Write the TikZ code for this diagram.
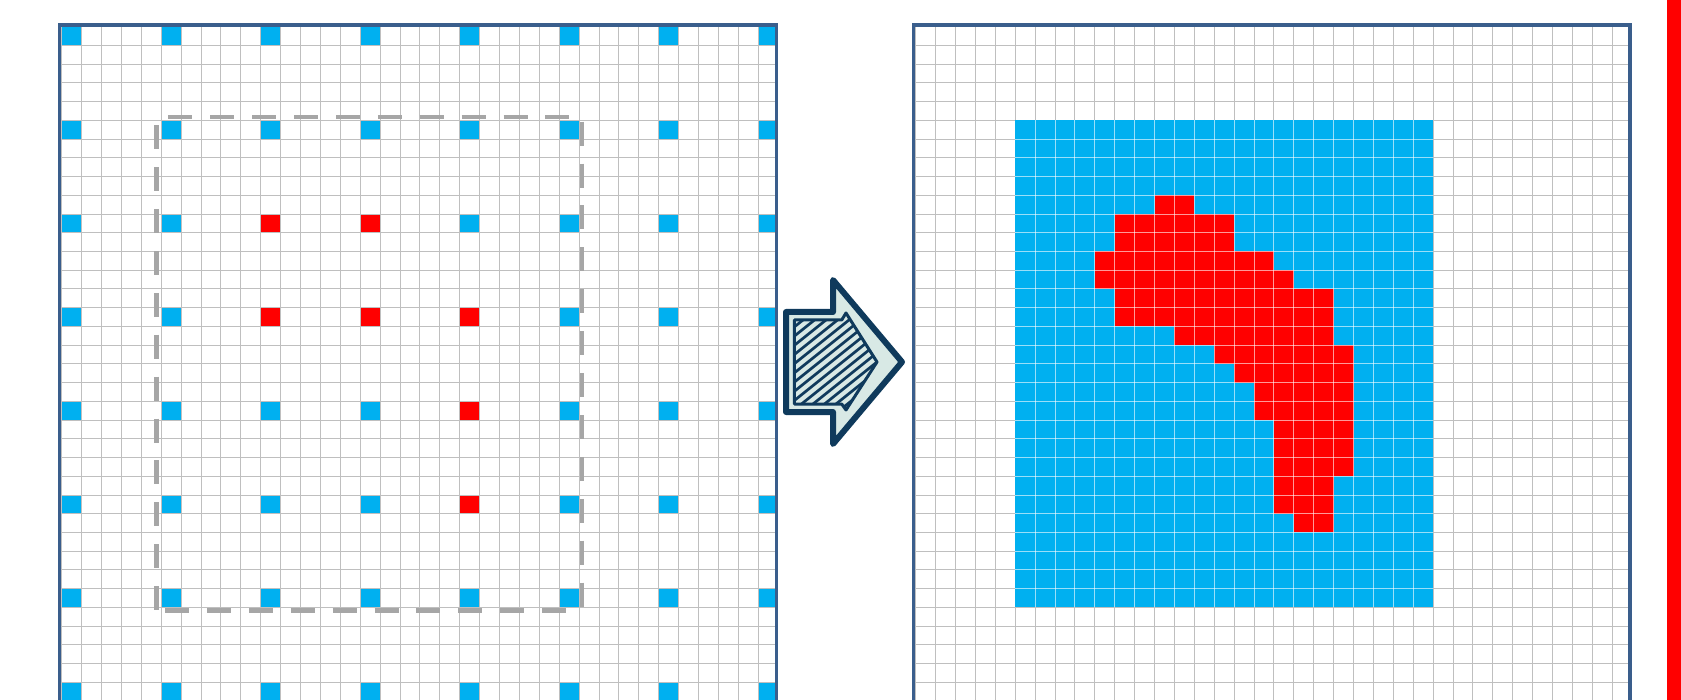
\documentclass[tikz,border=0pt]{standalone}
\definecolor{cellblue}{HTML}{00B0F0}
\definecolor{cellred}{HTML}{FF0000}
\definecolor{gridgray}{HTML}{BFBFBF}
\definecolor{dashgray}{HTML}{A6A6A6}
\definecolor{panelblue}{HTML}{3A5E8C}
\definecolor{arrownavy}{HTML}{0F3A5C}
\definecolor{arrowfill}{HTML}{D8E9E5}
\begin{document}
\begin{tikzpicture}[x=1pt,y=-1pt,
  gl/.style={gridgray, line width=0.9pt},
  gllight/.style={white, opacity=0.6, line width=0.9pt},
  panel/.style={panelblue, line width=3.3pt},
  cellgrid/.style={x=19.9pt, y=-18.73pt},
  dashedge/.style={dashgray, line width=4.5pt, dash pattern=on 24pt off 17.9pt},
  arrowouter/.style={arrownavy, fill=arrowfill, line width=6pt, line join=round},
  arrowinner/.style={arrownavy, line width=3pt, line join=round},
  hatchline/.style={arrownavy, line width=2.7pt, line cap=round}]
\useasboundingbox (0,0) rectangle (1681,700);
\clip (0,0) rectangle (1681,700);

% ---------- left panel ----------
\begin{scope}
  \clip (59.3,25) rectangle (776.7,720);
  \begin{scope}[xshift=61.7pt, yshift=-26.7pt, cellgrid]
    \foreach \r in {0,5,...,35}
      \foreach \c in {0,5,...,35}
        \fill[cellblue] (\c,\r) rectangle ++(1,1);
    \foreach \c/\r in {10/10,15/10,10/15,15/15,20/15,20/20,20/25}
      \fill[cellred] (\c,\r) rectangle ++(1,1);
    \foreach \i in {0,...,36} \draw[gl] (\i,-1) -- (\i,37);
    \foreach \j in {0,...,36} \draw[gl] (-1,\j) -- (37,\j);
  \end{scope}
\end{scope}
\draw[panel] (59.3,25) rectangle (776.7,720);

% dashed window
\coordinate (wtl) at (156.7,117.2);
\coordinate (wtr) at (582,117.2);
\coordinate (wbl) at (156.7,610.7);
\coordinate (wbr) at (582,610.7);
\draw[dashedge, dash phase=30.3pt] (wtl) -- (wtr);
\draw[dashedge, dash phase=33.9pt] (wtl) -- (wbl);
\draw[dashedge, dash phase=33.6pt] (wbl) -- (wbr);
\draw[dashedge, dash phase=37.4pt] (wtr) -- (wbr);

% ---------- arrow ----------
\draw[arrowouter] (786,312) -- (833,312) -- (833,280) -- (902,362) -- (833,444) -- (833,412) -- (786,412) -- cycle;
\begin{scope}
  \clip (794.3,320) -- (841.7,320) -- (846,313) -- (877,362) -- (846,410) -- (841.7,404) -- (794.3,404) -- cycle;
  \foreach \t in {-110,-98.5,...,90}
    \draw[hatchline] (794+\t,406) -- ++(110,-88);
\end{scope}
\draw[arrowinner] (794.3,320) -- (841.7,320) -- (846,313) -- (877,362) -- (846,410) -- (841.7,404) -- (794.3,404) -- cycle;

% ---------- right panel ----------
\begin{scope}
  \clip (913.3,25) rectangle (1630,720);
  \begin{scope}[xshift=915.7pt, yshift=-26.7pt, cellgrid]
    \foreach \i in {0,...,36} \draw[gl] (\i,-1) -- (\i,37);
    \foreach \j in {0,...,36} \draw[gl] (-1,\j) -- (37,\j);
    \fill[cellblue] (5,5) rectangle (26,31);
    \foreach \r/\a/\b in {9/12/13,10/10/15,11/10/15,12/9/17,13/9/18,14/10/20,15/10/20,16/13/20,17/15/21,18/16/21,19/17/21,20/17/21,21/18/21,22/18/21,23/18/21,24/18/20,25/18/20,26/19/20}
      \fill[cellred] (\a,\r) rectangle (\b+1,\r+1);
    \foreach \i in {6,...,25} \draw[gllight] (\i,5) -- (\i,31);
    \foreach \j in {6,...,30} \draw[gllight] (5,\j) -- (26,\j);
  \end{scope}
\end{scope}
\draw[panel] (913.3,25) rectangle (1630,720);

% red bar at right edge
\fill[cellred] (1666.7,-2) rectangle (1683,702);
\end{tikzpicture}
\end{document}
